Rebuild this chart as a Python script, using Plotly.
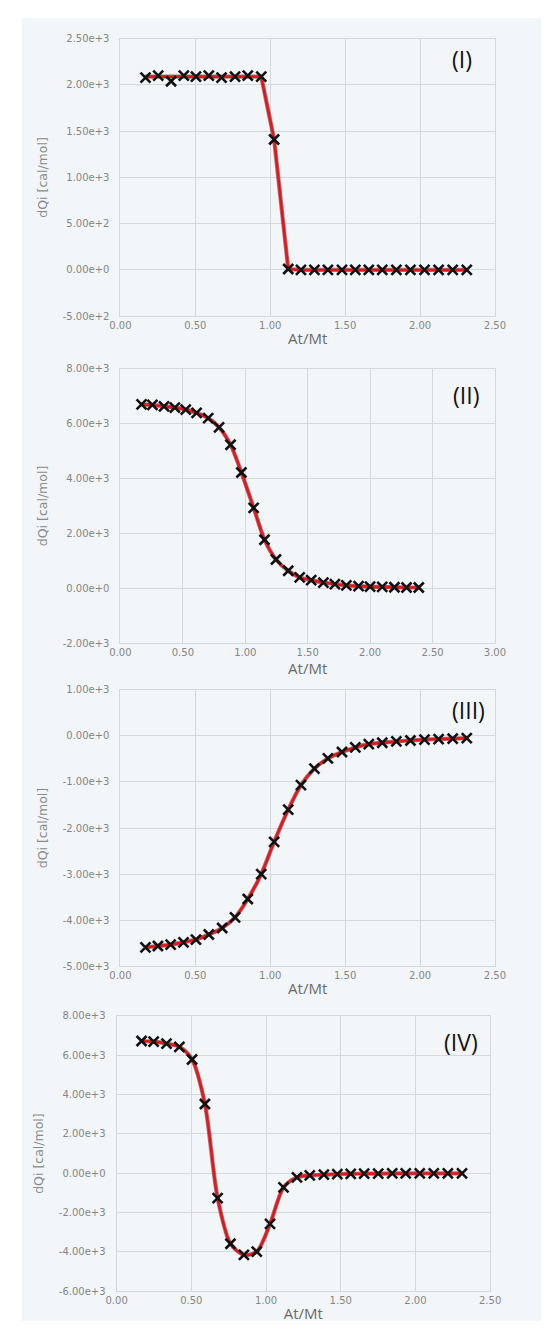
import plotly.graph_objects as go

W, H = 552, 1334

# ---------------- data ----------------
x_I = [0.167, 0.252, 0.338, 0.423, 0.504, 0.590, 0.675, 0.765, 0.850, 0.940,
       1.026, 1.120, 1.205, 1.295, 1.385, 1.479, 1.568, 1.658, 1.748, 1.842,
       1.936, 2.030, 2.124, 2.218, 2.312]
y_I = [2080, 2100, 2040, 2100, 2090, 2100, 2080, 2090, 2100, 2090,
       1410, 10, 0, 0, 0, 0, 0, 0, 0, 0, 0, 0, 0, 0, 0]
fit_I = [2090, 2090, 2090, 2090, 2090, 2090, 2090, 2090, 2090, 2090,
         1410, 10, 0, 0, 0, 0, 0, 0, 0, 0, 0, 0, 0, 0, 0]

x_II = [0.169, 0.256, 0.349, 0.436, 0.523, 0.610, 0.703, 0.790, 0.882, 0.969,
        1.067, 1.154, 1.246, 1.344, 1.436, 1.528, 1.626, 1.718, 1.810, 1.908,
        2.000, 2.097, 2.195, 2.292, 2.390]
y_II = [6700, 6680, 6630, 6580, 6510, 6390, 6200, 5860, 5230, 4220,
        2930, 1770, 1050, 640, 400, 300, 210, 150, 110, 80,
        60, 50, 40, 30, 30]

x_III = [0.167, 0.250, 0.335, 0.421, 0.504, 0.590, 0.679, 0.765, 0.850, 0.940,
         1.026, 1.120, 1.205, 1.295, 1.385, 1.479, 1.568, 1.658, 1.748, 1.842,
         1.936, 2.030, 2.124, 2.218, 2.312]
y_III = [-4590, -4560, -4530, -4480, -4420, -4310, -4170, -3940, -3540, -3000,
         -2300, -1600, -1070, -710, -490, -350, -250, -180, -150, -120,
         -100, -80, -70, -60, -50]

x_IV = [0.167, 0.248, 0.334, 0.420, 0.505, 0.591, 0.676, 0.762, 0.852, 0.938,
        1.027, 1.117, 1.207, 1.293, 1.387, 1.477, 1.567, 1.657, 1.751, 1.845,
        1.935, 2.029, 2.123, 2.217, 2.312]
y_IV = [6720, 6690, 6590, 6420, 5780, 3520, -1260, -3580, -4150, -3980,
        -2570, -720, -210, -110, -70, -40, -30, -20, -20, -10,
        -10, -10, -10, -10, -10]

xt_25 = [0, 0.5, 1.0, 1.5, 2.0, 2.5]
xt_25_text = ["0.00", "0.50", "1.00", "1.50", "2.00", "2.50"]
xt_30 = [0, 0.5, 1.0, 1.5, 2.0, 2.5, 3.0]
xt_30_text = ["0.00", "0.50", "1.00", "1.50", "2.00", "2.50", "3.00"]

yt_I = [-500, 0, 500, 1000, 1500, 2000, 2500]
yt_I_text = ["-5.00e+2", "0.00e+0", "5.00e+2", "1.00e+3", "1.50e+3", "2.00e+3", "2.50e+3"]
yt_II = [-2000, 0, 2000, 4000, 6000, 8000]
yt_II_text = ["-2.00e+3", "0.00e+0", "2.00e+3", "4.00e+3", "6.00e+3", "8.00e+3"]
yt_III = [-5000, -4000, -3000, -2000, -1000, 0, 1000]
yt_III_text = ["-5.00e+3", "-4.00e+3", "-3.00e+3", "-2.00e+3", "-1.00e+3", "0.00e+0", "1.00e+3"]
yt_IV = [-6000, -4000, -2000, 0, 2000, 4000, 6000, 8000]
yt_IV_text = ["-6.00e+3", "-4.00e+3", "-2.00e+3", "0.00e+0", "2.00e+3", "4.00e+3", "6.00e+3", "8.00e+3"]

labels = ["(I)", "(II)", "(III)", "(IV)"]

# ---------------- layout geometry (page pixels) ----------------
panels = [
    # (x0, x1, y_top, y_bottom)
    (114, 504, 33, 313),
    (114, 504, 366, 643),
    (114, 504, 690, 969),
    (110, 499, 1019, 1297),
]
label_pos = [(482, 53), (489, 393), (496, 710), (488, 1045)]

BG = "#f3f6f9"
GRID = "#d5d9dc"
RED = "#e8141b"


def px(x):
    return x / W


def py(y):
    return 1 - y / H


fig = go.Figure()

series = [
    (x_I, y_I, fit_I, "linear"),
    (x_II, y_II, y_II, "spline"),
    (x_III, y_III, y_III, "spline"),
    (x_IV, y_IV, y_IV, "spline"),
]
xticks = [(xt_25, xt_25_text, [0, 2.5]), (xt_30, xt_30_text, [0, 3.0]),
          (xt_25, xt_25_text, [0, 2.5]), (xt_25, xt_25_text, [0, 2.5])]
yticks = [(yt_I, yt_I_text, [-500, 2500]), (yt_II, yt_II_text, [-2000, 8000]),
          (yt_III, yt_III_text, [-5000, 1000]), (yt_IV, yt_IV_text, [-6000, 8000])]

for i, (xs, ys, fit, shape) in enumerate(series):
    n = "" if i == 0 else str(i + 1)
    xa, ya = "x" + n, "y" + n
    fig.add_trace(go.Scatter(x=xs, y=fit, mode="lines", xaxis=xa, yaxis=ya,
                             line=dict(color="rgba(90,0,0,0.5)", width=4.2, shape=shape, smoothing=0.8),
                             hoverinfo="skip", showlegend=False))
    fig.add_trace(go.Scatter(x=xs, y=fit, mode="lines", xaxis=xa, yaxis=ya,
                             line=dict(color=RED, width=2.6, shape=shape, smoothing=0.8),
                             showlegend=False))
    fig.add_trace(go.Scatter(x=xs, y=ys, mode="markers", xaxis=xa, yaxis=ya,
                             marker=dict(symbol="x-thin", size=10,
                                         line=dict(color="#111111", width=2.6)),
                             showlegend=False))

    x0, x1, yt, yb = panels[i]
    xv, xtx, xr = xticks[i]
    yv, ytx, yr = yticks[i]
    common = dict(showgrid=True, gridcolor=GRID, gridwidth=1,
                  showline=True, linecolor=GRID, linewidth=1, mirror=True,
                  zeroline=False, ticks="",
                  tickfont=dict(family="DejaVu Sans", size=10, color="#858585"))
    fig.layout["xaxis" + n] = dict(
        domain=[px(x0), px(x1)], anchor=ya, range=xr,
        tickmode="array", tickvals=xv, ticktext=xtx,
        title=dict(text="At/Mt", standoff=3,
                   font=dict(family="Open Sans", size=15, color="#6a6a6a")),
        **common)
    fig.layout["yaxis" + n] = dict(
        domain=[py(yb), py(yt)], anchor=xa, range=yr,
        tickmode="array", tickvals=yv, ticktext=ytx, ticklabelstandoff=8,
        title=dict(text="dQi [cal/mol]", standoff=12,
                   font=dict(family="DejaVu Sans", size=12.5, color="#8a8a8a")),
        **common)

    lx, ly = label_pos[i]
    fig.add_annotation(text=labels[i], xref="paper", yref="paper",
                       x=px(lx), y=py(ly), xanchor="right", yanchor="middle",
                       showarrow=False,
                       font=dict(family="Open Sans", size=23, color="#111111"))

fig.add_shape(type="rect", xref="paper", yref="paper",
              x0=px(11), x1=1, y0=py(1327), y1=py(12),
              fillcolor=BG, line=dict(width=0), layer="below")

fig.update_layout(width=W, height=H, margin=dict(l=0, r=0, t=0, b=0),
                  paper_bgcolor="white", plot_bgcolor=BG, showlegend=False)

fig.write_html("out.html", config={"displayModeBar": False},
               post_script="document.body.style.margin='0';document.body.style.overflow='hidden';")
